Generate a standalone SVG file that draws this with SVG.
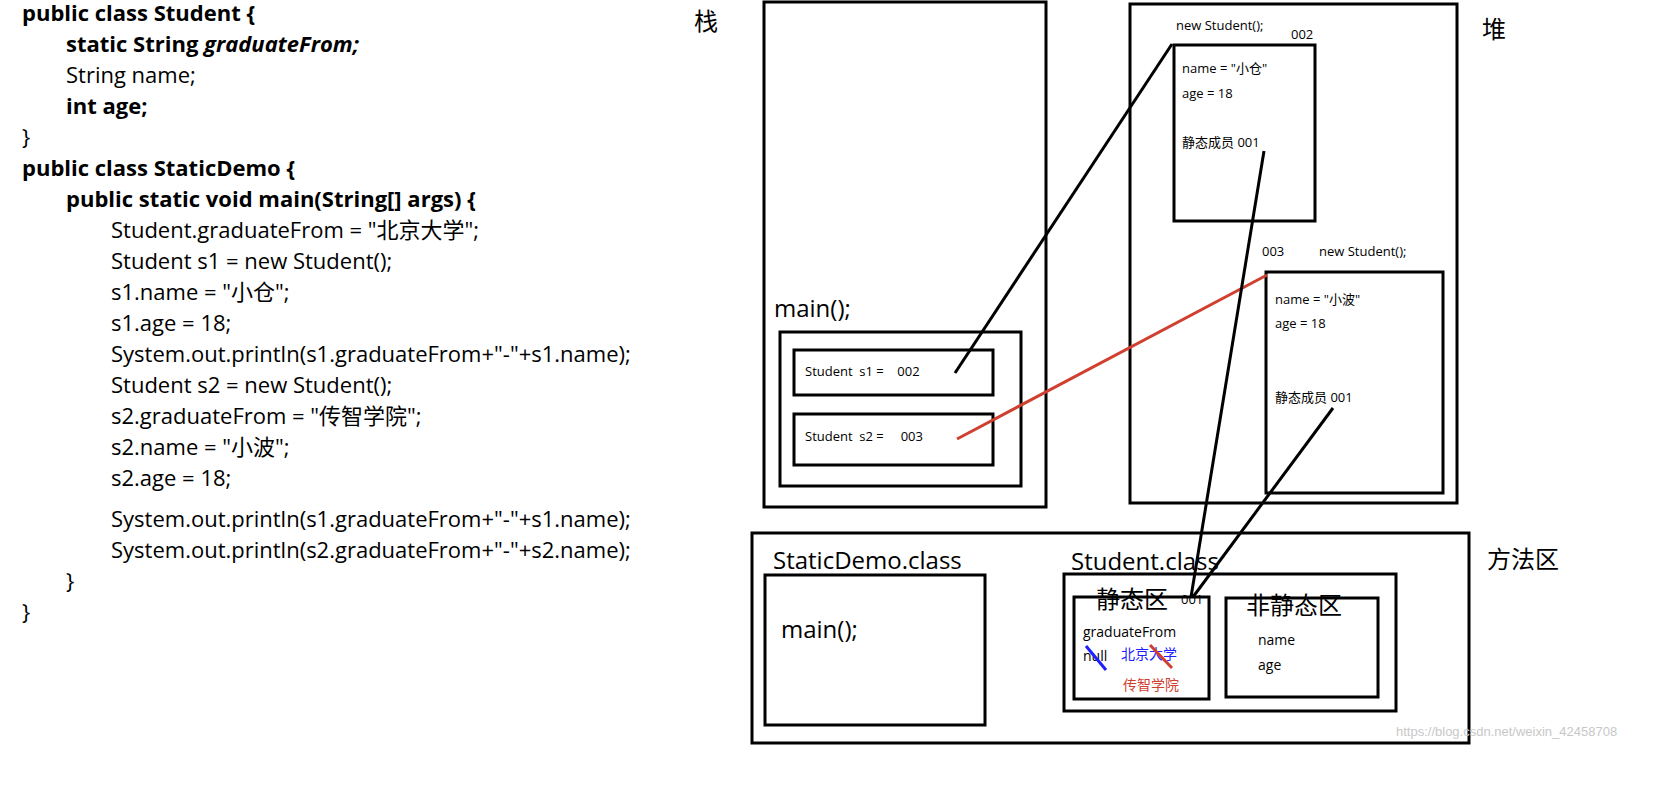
<svg xmlns="http://www.w3.org/2000/svg" width="1661" height="794" viewBox="0 0 1661 794">
<style>
text{white-space:pre}
.c{font-family:"Open Sans","Noto Sans CJK SC",sans-serif;font-size:22px;fill:#000}
.b{font-weight:bold}
.s{font-family:"Open Sans","Noto Sans CJK SC",sans-serif;font-size:13px;fill:#000}
.m{font-family:"Open Sans","Noto Sans CJK SC",sans-serif;font-size:14px}
.L{font-family:"Open Sans","Noto Sans CJK SC",sans-serif;font-size:24px;fill:#000}
.box{fill:none;stroke:#000;stroke-width:3}
.ln{stroke:#000;stroke-width:3;fill:none}
</style>
<rect width="1661" height="794" fill="#fff"/>
<g id="code">
<text class="c b" x="22" y="21">public class Student {</text>
<text class="c b" x="66" y="52">static String <tspan font-style="italic">graduateFrom;</tspan></text>
<text class="c" x="66" y="83">String name;</text>
<text class="c b" x="66" y="114">int age;</text>
<text class="c" x="22" y="145">}</text>
<text class="c b" x="22" y="176">public class StaticDemo {</text>
<text class="c b" x="66" y="207">public static void main(String[] args) {</text>
<text class="c" x="111" y="238">Student.graduateFrom = "北京大学";</text>
<text class="c" x="111" y="269">Student s1 = new Student();</text>
<text class="c" x="111" y="300">s1.name = "小仓";</text>
<text class="c" x="111" y="331">s1.age = 18;</text>
<text class="c" x="111" y="362">System.out.println(s1.graduateFrom+"-"+s1.name);</text>
<text class="c" x="111" y="393">Student s2 = new Student();</text>
<text class="c" x="111" y="424">s2.graduateFrom = "传智学院";</text>
<text class="c" x="111" y="455">s2.name = "小波";</text>
<text class="c" x="111" y="486">s2.age = 18;</text>
<text class="c" x="111" y="527">System.out.println(s1.graduateFrom+"-"+s1.name);</text>
<text class="c" x="111" y="558">System.out.println(s2.graduateFrom+"-"+s2.name);</text>
<text class="c" x="66" y="589">}</text>
<text class="c" x="22" y="620">}</text>
</g>
<g id="stack">
<text class="L" x="694" y="30" font-size="22">栈</text>
<rect class="box" x="764" y="2" width="282" height="505"/>
<text class="L" x="774" y="317">main();</text>
<rect class="box" x="780" y="332" width="241" height="154"/>
<rect class="box" x="794" y="350" width="199" height="45"/>
<text class="s" x="805" y="376">Student  s1 =    002</text>
<rect class="box" x="794" y="414" width="199" height="51"/>
<text class="s" x="805" y="441">Student  s2 =     003</text>
</g>
<g id="heap">
<text class="L" x="1482" y="38" font-size="22">堆</text>
<rect class="box" x="1130" y="4" width="327" height="499"/>
<text class="s" x="1176" y="30">new Student();</text>
<text class="s" x="1291" y="39">002</text>
<rect class="box" x="1174" y="45" width="141" height="176"/>
<text class="s" x="1182" y="73">name = "小仓"</text>
<text class="s" x="1182" y="98">age = 18</text>
<text class="s" x="1182" y="147">静态成员 001</text>
<text class="s" x="1262" y="256">003</text>
<text class="s" x="1319" y="256">new Student();</text>
<rect class="box" x="1266" y="272" width="177" height="221"/>
<text class="s" x="1275" y="304">name = "小波"</text>
<text class="s" x="1275" y="328">age = 18</text>
<text class="s" x="1275" y="402">静态成员 001</text>
</g>
<g id="method">
<text class="L" x="1487" y="568" font-size="22">方法区</text>
<rect class="box" x="752" y="533" width="717" height="210"/>
<text class="L" x="773" y="569">StaticDemo.class</text>
<rect class="box" x="765" y="575" width="220" height="150"/>
<text class="L" x="781" y="638">main();</text>
<text class="L" x="1071" y="570">Student.class</text>
<rect class="box" x="1064" y="574" width="332" height="137"/>
<rect class="box" x="1074" y="597" width="135" height="102"/>
<text class="L" x="1096" y="608" font-size="22">静态区</text>
<text class="s" x="1181" y="604">001</text>
<text class="m" x="1083" y="637" style="fill:#000">graduateFrom</text>
<text class="m" x="1083" y="661" style="fill:#000">null</text>
<text class="m" x="1121" y="659" style="fill:#2020ff">北京大学</text>
<text class="m" x="1123" y="690" style="fill:#d04030">传智学院</text>
<rect class="box" x="1226" y="598" width="152" height="99"/>
<text class="L" x="1246" y="614" font-size="22">非静态区</text>
<text class="m" x="1258" y="645" style="fill:#000">name</text>
<text class="m" x="1258" y="670" style="fill:#000">age</text>
</g>
<g id="connectors">
<line class="ln" x1="955" y1="373" x2="1172" y2="44"/>
<line x1="957" y1="439" x2="1267" y2="275" stroke="#d04030" stroke-width="3"/>
<line class="ln" x1="1264" y1="151" x2="1191" y2="597"/>
<line class="ln" x1="1333" y1="408" x2="1193" y2="597"/>
<line x1="1086" y1="646" x2="1106" y2="670" stroke="#2020ff" stroke-width="3"/>
<line x1="1150" y1="645" x2="1172" y2="668" stroke="#d04030" stroke-width="3"/>
</g>
<text x="1396" y="736" font-family="Liberation Sans,sans-serif" font-size="13" fill="#c8c8c8">https://blog.csdn.net/weixin_42458708</text>
</svg>
